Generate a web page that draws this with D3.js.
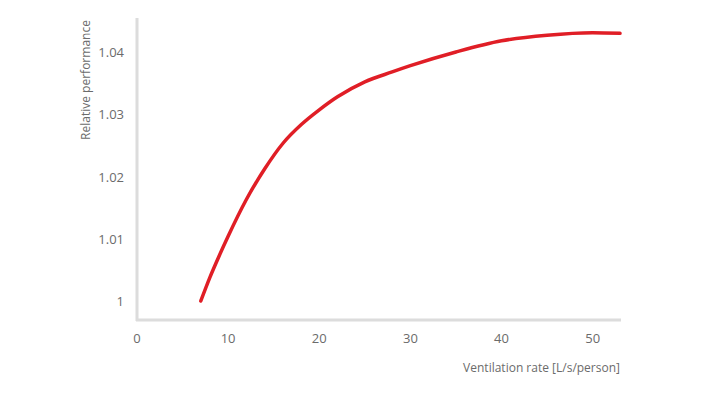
<!DOCTYPE html>
<html><head><meta charset="utf-8">
<script src="https://cdn.jsdelivr.net/npm/d3@7"></script>
<style>body{margin:0;background:#fff}text{font-family:"Open Sans",sans-serif;fill:#6b6b6b}</style>
</head><body><svg id="c" width="720" height="405"></svg>
<script>
const rate=[7,8,9,10,12,14,16,18,20,22,25,28,30,35,40,45,50,53];
const perf=[1.000,1.0038,1.0072,1.0104,1.0163,1.0212,1.0253,1.0283,1.0307,1.0328,1.0352,1.0368,1.0378,1.0400,1.0418,1.0427,1.0431,1.0430];
const xTicks=[0,10,20,30,40,50];
const yTicks=[1,1.01,1.02,1.03,1.04];
const svg=d3.select("#c");
const x=d3.scaleLinear().domain([0,53]).range([137,620]);
const y=d3.scaleLinear().domain([1,1.04]).range([301,52]);
svg.append("line").attr("x1",137).attr("x2",137).attr("y1",18).attr("y2",321).attr("stroke","#dcdcdc").attr("stroke-width",3);
svg.append("line").attr("x1",136).attr("x2",621).attr("y1",320).attr("y2",320).attr("stroke","#dcdcdc").attr("stroke-width",3);
svg.selectAll(".xt").data(xTicks).join("text").attr("x",d=>x(d)).attr("y",343).attr("text-anchor","middle").attr("font-size",13).text(d=>d);
svg.selectAll(".yt").data(yTicks).join("text").attr("x",124).attr("y",d=>y(d)+5).attr("text-anchor","end").attr("font-size",13).text(d=>d);
svg.append("text").attr("transform","translate(90,80) rotate(-90)").attr("text-anchor","middle").attr("font-size",12).text("Relative performance");
svg.append("text").attr("x",620).attr("y",372).attr("text-anchor","end").attr("font-size",12).text("Ventilation rate [L/s/person]");
svg.append("path").datum(rate.map((r,i)=>[r,perf[i]])).attr("fill","none").attr("stroke","#e01e26").attr("stroke-width",3.5).attr("stroke-linecap","round")
 .attr("d",d3.line().x(d=>x(d[0])).y(d=>y(d[1])).curve(d3.curveMonotoneX));
</script></body></html>
